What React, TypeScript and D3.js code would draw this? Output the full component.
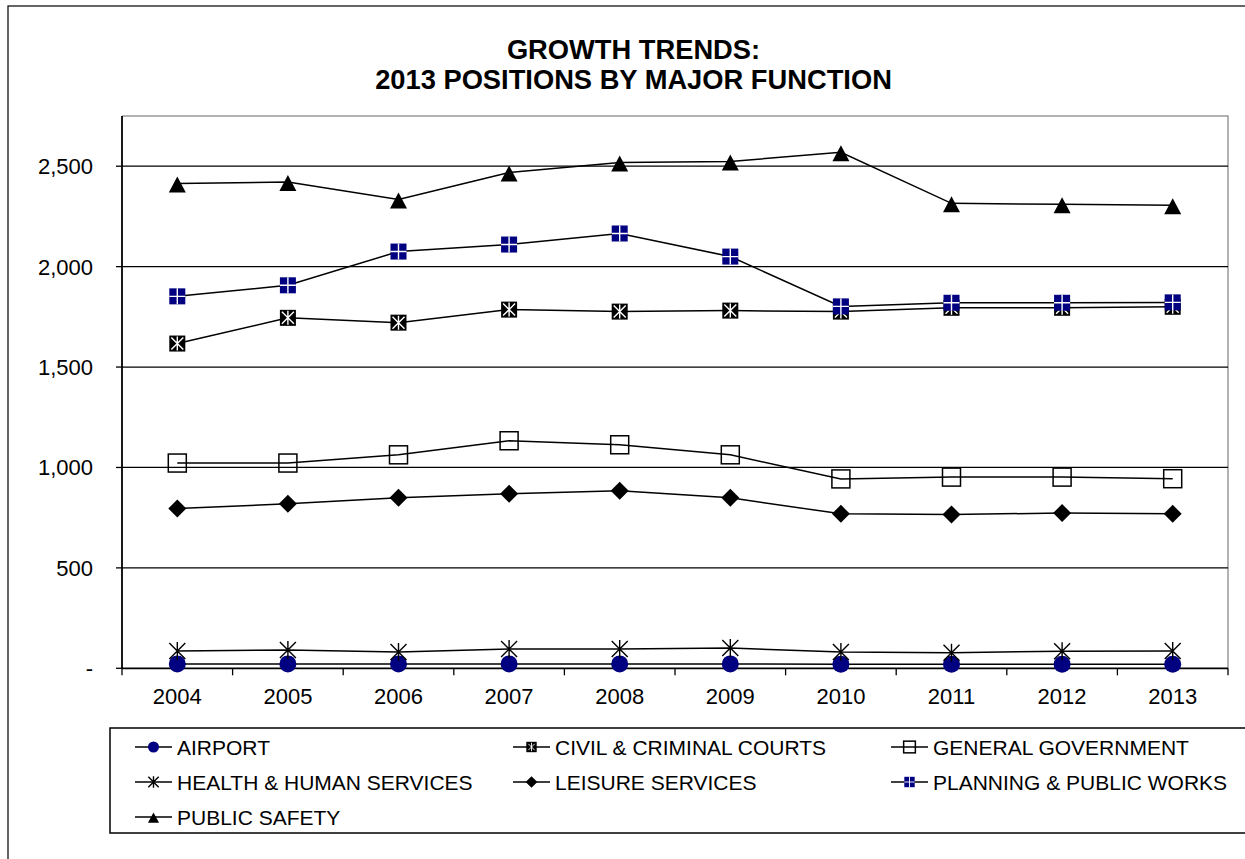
import React from "react";
import * as d3 from "d3";

const years = ["2004", "2005", "2006", "2007", "2008", "2009", "2010", "2011", "2012", "2013"];
const yTicks = [0, 500, 1000, 1500, 2000, 2500];

const airport = [22, 22, 22, 22, 22, 22, 20, 20, 20, 20];
const civilCourts = [1617, 1745, 1721, 1786, 1776, 1781, 1776, 1795, 1795, 1800];
const generalGov = [1022, 1022, 1063, 1133, 1113, 1063, 943, 952, 952, 944];
const healthHuman = [86, 91, 81, 96, 96, 101, 81, 78, 85, 86];
const leisure = [796, 819, 849, 869, 884, 849, 769, 766, 773, 769];
const planning = [1852, 1907, 2075, 2110, 2165, 2050, 1802, 1820, 1820, 1822];
const publicSafety = [2414, 2421, 2334, 2469, 2519, 2524, 2569, 2315, 2310, 2306];

const seriesNames = [
  "AIRPORT",
  "CIVIL & CRIMINAL COURTS",
  "GENERAL GOVERNMENT",
  "HEALTH & HUMAN SERVICES",
  "LEISURE SERVICES",
  "PLANNING & PUBLIC WORKS",
  "PUBLIC SAFETY",
];
const seriesValues = [airport, civilCourts, generalGov, healthHuman, leisure, planning, publicSafety];
const seriesMarkers = ["circle", "civil", "opensquare", "asterisk", "diamond", "planning", "triangle"];

const NAVY = "#000080";
const FONT = "'Liberation Sans', Arial, Helvetica, sans-serif";

function Marker({ type, x, y, s }: { type: string; x: number; y: number; s: number }) {
  const h = 8 * s;
  switch (type) {
    case "circle":
      return <circle cx={x} cy={y} r={8.5 * s} fill={NAVY} />;
    case "civil":
      return (
        <g>
          <rect x={x - h} y={y - h} width={2 * h} height={2 * h} fill="#000" />
          <path
            d={`M${x - h + 2},${y - h + 2}L${x + h - 2},${y + h - 2}M${x + h - 2},${y - h + 2}L${x - h + 2},${y + h - 2}M${x},${y - h + 1}L${x},${y + h - 1}`}
            stroke="#fff"
            strokeWidth={1.4 * s}
          />
        </g>
      );
    case "opensquare":
      return <rect x={x - 9 * s} y={y - 9 * s} width={18 * s} height={18 * s} fill="none" stroke="#000" strokeWidth={1.5} />;
    case "asterisk":
      return (
        <path
          d={`M${x - h},${y - h}L${x + h},${y + h}M${x + h},${y - h}L${x - h},${y + h}M${x},${y - 9 * s}L${x},${y + 9 * s}`}
          stroke="#000"
          strokeWidth={1.4}
          fill="none"
        />
      );
    case "diamond": {
      const d = 9 * s;
      return <path d={`M${x},${y - d}L${x + d},${y}L${x},${y + d}L${x - d},${y}Z`} fill="#000" />;
    }
    case "planning":
      return (
        <g>
          <rect x={x - h} y={y - h} width={2 * h} height={2 * h} fill={NAVY} />
          <path d={`M${x},${y - h}L${x},${y + h}M${x - h},${y}L${x + h},${y}`} stroke="#fff" strokeWidth={1.4 * s} />
        </g>
      );
    case "triangle":
      return <path d={`M${x},${y - 7 * s}L${x + 8.5 * s},${y + 9 * s}L${x - 8.5 * s},${y + 9 * s}Z`} fill="#000" />;
    default:
      return null;
  }
}

export default function App() {
  const W = 1245;
  const H = 859;
  const left = 122;
  const right = 1228;
  const top = 116;
  const bottom = 668.3;

  const x = d3.scaleBand<string>().domain(years).range([left, right]).padding(0);
  const y = d3.scaleLinear().domain([0, 2750]).range([bottom, top]);
  const cx = (yr: string) => (x(yr) as number) + x.bandwidth() / 2;

  const line = d3
    .line<number>()
    .x((_, i) => cx(years[i]))
    .y((v) => y(v));

  const fmt = (v: number) => (v === 0 ? "-" : d3.format(",")(v));

  const legendX0 = 135;
  const legendColStep = 378;
  const legendY0 = 747;
  const legendRowStep = 35;

  return (
    <svg
      width={W}
      height={H}
      style={{ position: "absolute", left: 0, top: 0, background: "#fff" }}
      fontFamily={FONT}
    >
      <rect x={8} y={6} width={1300} height={900} fill="#fff" stroke="#000" strokeWidth={1.2} />

      <text x={633.5} y={59} textAnchor="middle" fontSize={27.3} fontWeight="bold">
        GROWTH TRENDS:
      </text>
      <text x={633.5} y={89} textAnchor="middle" fontSize={27.3} fontWeight="bold">
        2013 POSITIONS BY MAJOR FUNCTION
      </text>

      {/* plot border */}
      <path d={`M${left},${top}H${right}V${bottom}`} fill="none" stroke="#9a9a9a" strokeWidth={1.5} />

      {/* gridlines */}
      {yTicks.slice(1).map((t) => (
        <line key={t} x1={left} x2={right} y1={y(t)} y2={y(t)} stroke="#000" strokeWidth={1.3} />
      ))}

      {/* y axis */}
      <line x1={left} x2={left} y1={top} y2={bottom} stroke="#000" strokeWidth={1.8} />
      {yTicks.map((t) => (
        <g key={t}>
          <line x1={left - 6} x2={left} y1={y(t)} y2={y(t)} stroke="#000" strokeWidth={1.3} />
          <text x={93} y={y(t) + 8} textAnchor="end" fontSize={22}>
            {fmt(t)}
          </text>
        </g>
      ))}

      {/* x axis */}
      <line x1={left} x2={right} y1={bottom} y2={bottom} stroke="#000" strokeWidth={1.8} />
      {years.map((yr) => (
        <line key={"t" + yr} x1={x(yr) as number} x2={x(yr) as number} y1={bottom} y2={bottom + 7} stroke="#000" strokeWidth={1.3} />
      ))}
      <line x1={right} x2={right} y1={bottom} y2={bottom + 7} stroke="#000" strokeWidth={1.3} />
      {years.map((yr) => (
        <text key={"l" + yr} x={cx(yr)} y={704} textAnchor="middle" fontSize={22}>
          {yr}
        </text>
      ))}

      {/* series */}
      {seriesValues.map((vals, si) => (
        <g key={seriesNames[si]}>
          <path d={line(vals) || ""} fill="none" stroke="#000" strokeWidth={1.5} />
          {vals.map((v, i) => (
            <Marker key={i} type={seriesMarkers[si]} x={cx(years[i])} y={y(v)} s={1} />
          ))}
        </g>
      ))}

      {/* legend */}
      <rect x={110} y={728} width={1200} height={105} fill="none" stroke="#000" strokeWidth={1.5} />
      {seriesNames.map((name, i) => {
        const col = i % 3;
        const row = Math.floor(i / 3);
        const lx = legendX0 + col * legendColStep;
        const ly = legendY0 + row * legendRowStep;
        return (
          <g key={"lg" + name}>
            <line x1={lx} x2={lx + 37} y1={ly} y2={ly} stroke="#000" strokeWidth={1.5} />
            <Marker type={seriesMarkers[i]} x={lx + 18.5} y={ly} s={0.65} />
            <text x={lx + 42} y={ly + 7.5} fontSize={21}>
              {name}
            </text>
          </g>
        );
      })}
    </svg>
  );
}
